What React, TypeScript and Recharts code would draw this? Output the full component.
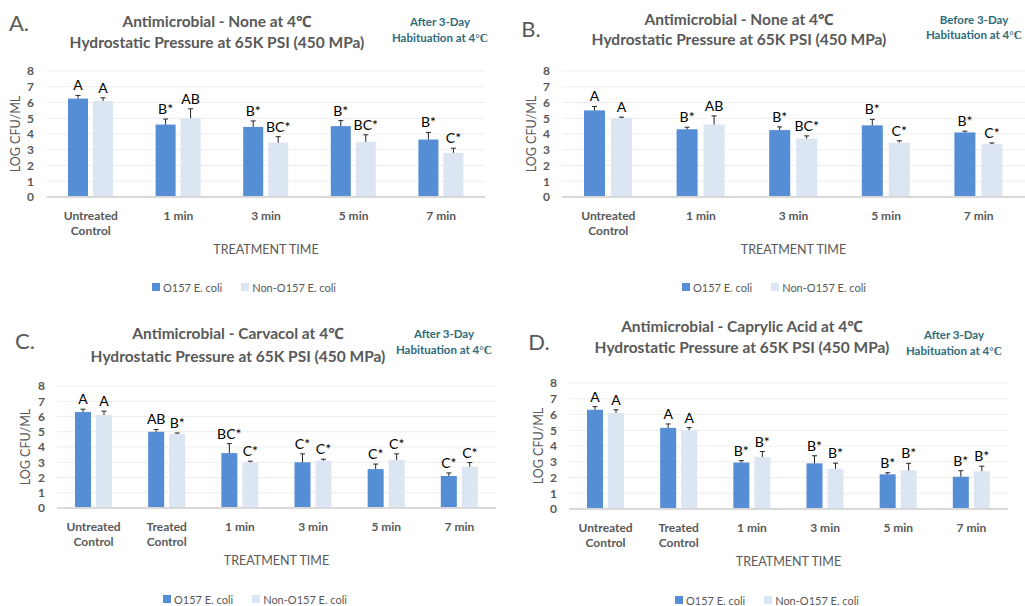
import React from 'react'
import { BarChart, Bar, XAxis, YAxis, CartesianGrid } from 'recharts'

const FONT = 'Lato, "Noto Sans", sans-serif'
const GREY = '#595959'
const TEAL = '#2F6B7B'
const DARK = '#558ED5'
const LIGHT = '#DCE6F2'

// categories
const catsShort = ['Untreated Control', '1 min', '3 min', '5 min', '7 min']
const catsLong = ['Untreated Control', 'Treated Control', '1 min', '3 min', '5 min', '7 min']
const yTicks = [0, 1, 2, 3, 4, 5, 6, 7, 8]

// A. none, after habituation
const o157A = [6.25, 4.6, 4.45, 4.5, 3.65]
const o157ErrA = [0.2, 0.35, 0.38, 0.35, 0.45]
const o157TagA = ['A', 'B*', 'B*', 'B*', 'B*']
const nonA = [6.1, 5.0, 3.45, 3.5, 2.8]
const nonErrA = [0.2, 0.6, 0.38, 0.45, 0.3]
const nonTagA = ['A', 'AB', 'BC*', 'BC*', 'C*']

// B. none, before habituation
const o157B = [5.5, 4.3, 4.25, 4.55, 4.1]
const o157ErrB = [0.25, 0.13, 0.2, 0.38, 0.08]
const o157TagB = ['A', 'B*', 'B*', 'B*', 'B*']
const nonB = [5.0, 4.6, 3.7, 3.45, 3.35]
const nonErrB = [0.07, 0.55, 0.18, 0.12, 0.08]
const nonTagB = ['A', 'AB', 'BC*', 'C*', 'C*']

// C. carvacol
const o157C = [6.3, 5.0, 3.6, 3.0, 2.55, 2.1]
const o157ErrC = [0.18, 0.15, 0.62, 0.55, 0.33, 0.2]
const o157TagC = ['A', 'AB', 'BC*', 'C*', 'C*', 'C*']
const nonC = [6.1, 4.85, 3.0, 3.1, 3.15, 2.7]
const nonErrC = [0.25, 0.07, 0.07, 0.1, 0.4, 0.28]
const nonTagC = ['A', 'B*', 'C*', 'C*', 'C*', 'C*']

// D. caprylic acid
const o157D = [6.3, 5.15, 2.95, 2.9, 2.2, 2.05]
const o157ErrD = [0.2, 0.25, 0.12, 0.48, 0.1, 0.38]
const o157TagD = ['A', 'A', 'B*', 'B*', 'B*', 'B*']
const nonD = [6.1, 5.0, 3.3, 2.55, 2.45, 2.4]
const nonErrD = [0.2, 0.17, 0.35, 0.36, 0.45, 0.32]
const nonTagD = ['A', 'A', 'B*', 'B*', 'B*', 'B*']

function rows(cats: string[], o: number[], oe: number[], ot: string[], n: number[], ne: number[], nt: string[]) {
  return cats.map((cat, i) => ({
    cat,
    o157: o[i], o157Err: oe[i], o157Tag: ot[i],
    non: n[i], nonErr: ne[i], nonTag: nt[i],
  }))
}

// bar + upward error bar + letter
function ErrBar(props: any) {
  const { x, y, width, height, fill, payload, k } = props
  const v = payload[k]
  const e = payload[k + 'Err']
  const ppu = v ? height / v : 0
  const cx = x + width / 2
  const top = y - e * ppu
  return (
    <g>
      <rect x={x} y={y} width={width} height={height} fill={fill} />
      <line x1={cx} y1={y} x2={cx} y2={top} stroke="#262626" strokeWidth={1} />
      <line x1={cx - 2.5} y1={top} x2={cx + 2.5} y2={top} stroke="#262626" strokeWidth={1} />
      <text x={cx} y={top - 5} textAnchor="middle" fontSize={14} fill="#000" fontFamily={FONT}>
        {payload[k + 'Tag']}
      </text>
    </g>
  )
}

function CatTick({ x, y, payload }: any) {
  const lines = String(payload.value).split(/ (?=Control)/)
  return (
    <text x={x} y={y} textAnchor="middle" fontSize={12} fontWeight="bold" fill={GREY} fontFamily={FONT}>
      {lines.map((l, i) => (
        <tspan key={i} x={x} y={y + 21 + i * 15}>{l}</tspan>
      ))}
    </text>
  )
}

function Txt({ cx, cy, style, children }: any) {
  return (
    <div style={{
      position: 'absolute', left: cx, top: cy, transform: 'translate(-50%, -50%)',
      whiteSpace: 'nowrap', fontFamily: FONT, lineHeight: 1, ...style,
    }}>{children}</div>
  )
}

function Legend({ x, cy }: { x: number; cy: number }) {
  const item = (c: string, t: string) => (
    <div style={{ display: 'flex', alignItems: 'center', marginRight: 19 }}>
      <div style={{ width: 8, height: 8, background: c, marginRight: 3 }} />
      <span>{t}</span>
    </div>
  )
  return (
    <div style={{
      position: 'absolute', left: x, top: cy - 8, height: 16, display: 'flex', alignItems: 'center',
      fontFamily: FONT, fontSize: 11, color: GREY, whiteSpace: 'nowrap',
    }}>
      {item(DARK, 'O157 E. coli')}
      {item(LIGHT, 'Non-O157 E. coli')}
    </div>
  )
}

function Panel({ left, top, width, data, margin, yW, yTickMargin, yLabelX, barSize, barGap }: any) {
  return (
    <div style={{ position: 'absolute', left, top }}>
      <BarChart width={width} height={303} data={data} margin={margin} barGap={barGap}>
        <CartesianGrid vertical={false} stroke="#EDEDED" />
        <XAxis
          dataKey="cat"
          tick={<CatTick />}
          tickLine={false}
          tickSize={0}
          axisLine={{ stroke: '#D9D9D9', strokeWidth: 2 }}
          height={60}
          interval={0}
          label={{ value: 'TREATMENT TIME', position: 'insideBottom', offset: 3, fill: GREY, fontSize: 12.5, fontFamily: FONT }}
        />
        <YAxis
          domain={[0, 8]}
          ticks={yTicks}
          interval={0}
          width={yW}
          tickSize={0}
          tickMargin={yTickMargin}
          axisLine={false}
          tickLine={false}
          tick={{ fill: GREY, fontSize: 12, fontWeight: 'bold', fontFamily: FONT }}
          label={{
            value: 'LOG CFU/ML', angle: -90, position: 'insideLeft', offset: yLabelX,
            fill: GREY, fontSize: 12.5, fontFamily: FONT, style: { textAnchor: 'middle' },
          }}
        />
        <Bar dataKey="o157" fill={DARK} barSize={barSize} isAnimationActive={false}
          shape={(p: any) => <ErrBar {...p} k="o157" />} />
        <Bar dataKey="non" fill={LIGHT} barSize={barSize} isAnimationActive={false}
          shape={(p: any) => <ErrBar {...p} k="non" />} />
      </BarChart>
    </div>
  )
}

const titleStyle = { fontSize: 15.5, fontWeight: 'bold', color: GREY }
const noteStyle = { fontSize: 11.5, fontWeight: 'bold', color: TEAL }
const letterStyle = { fontSize: 22, color: GREY }
const degC = <span style={{ fontFamily: '"Liberation Serif", serif' }}>°C</span>

export default function App() {
  return (
    <div style={{ position: 'absolute', left: 0, top: 0, width: 1025, height: 606, background: '#fff', overflow: 'hidden' }}>
      <Panel left={0} top={0} width={512}
        data={rows(catsShort, o157A, o157ErrA, o157TagA, nonA, nonErrA, nonTagA)}
        margin={{ top: 71, right: 27, bottom: 46, left: 0 }} yW={47} yTickMargin={13} yLabelX={16}
        barSize={20} barGap={5} />
      <Panel left={512} top={0} width={513}
        data={rows(catsShort, o157B, o157ErrB, o157TagB, nonB, nonErrB, nonTagB)}
        margin={{ top: 71, right: 0, bottom: 46, left: 0 }} yW={50} yTickMargin={12} yLabelX={20}
        barSize={21} barGap={6} />
      <Panel left={0} top={303} width={512}
        data={rows(catsLong, o157C, o157ErrC, o157TagC, nonC, nonErrC, nonTagC)}
        margin={{ top: 83, right: 16, bottom: 38, left: 0 }} yW={57} yTickMargin={12} yLabelX={26}
        barSize={16} barGap={5} />
      <Panel left={512} top={303} width={513}
        data={rows(catsLong, o157D, o157ErrD, o157TagD, nonD, nonErrD, nonTagD)}
        margin={{ top: 80, right: 17, bottom: 37, left: 0 }} yW={57} yTickMargin={12} yLabelX={27}
        barSize={16} barGap={5} />

      {/* A */}
      <Txt cx={19} cy={23} style={letterStyle}>A.</Txt>
      <Txt cx={217} cy={22} style={titleStyle}>Antimicrobial - None at 4℃</Txt>
      <Txt cx={217} cy={43} style={titleStyle}>Hydrostatic Pressure at 65K PSI (450 MPa)</Txt>
      <Txt cx={440} cy={22} style={noteStyle}>After 3-Day</Txt>
      <Txt cx={440} cy={38} style={noteStyle}>Habituation at 4{degC}</Txt>
      <Legend x={152} cy={287} />

      {/* B */}
      <Txt cx={531} cy={29} style={letterStyle}>B.</Txt>
      <Txt cx={739} cy={20} style={titleStyle}>Antimicrobial - None at 4℃</Txt>
      <Txt cx={739} cy={40} style={titleStyle}>Hydrostatic Pressure at 65K PSI (450 MPa)</Txt>
      <Txt cx={974} cy={20} style={noteStyle}>Before 3-Day</Txt>
      <Txt cx={974} cy={35} style={noteStyle}>Habituation at 4{degC}</Txt>
      <Legend x={682} cy={287} />

      {/* C */}
      <Txt cx={25} cy={341} style={letterStyle}>C.</Txt>
      <Txt cx={238} cy={334} style={titleStyle}>Antimicrobial - Carvacol at 4℃</Txt>
      <Txt cx={238} cy={357} style={titleStyle}>Hydrostatic Pressure at 65K PSI (450 MPa)</Txt>
      <Txt cx={444} cy={334} style={noteStyle}>After 3-Day</Txt>
      <Txt cx={444} cy={350} style={noteStyle}>Habituation at 4{degC}</Txt>
      <Legend x={163} cy={599} />

      {/* D */}
      <Txt cx={539} cy={342} style={letterStyle}>D.</Txt>
      <Txt cx={742} cy={327} style={titleStyle}>Antimicrobial - Caprylic Acid at 4℃</Txt>
      <Txt cx={742} cy={348} style={titleStyle}>Hydrostatic Pressure at 65K PSI (450 MPa)</Txt>
      <Txt cx={954} cy={335} style={noteStyle}>After 3-Day</Txt>
      <Txt cx={954} cy={351} style={noteStyle}>Habituation at 4{degC}</Txt>
      <Legend x={675} cy={600} />
    </div>
  )
}
